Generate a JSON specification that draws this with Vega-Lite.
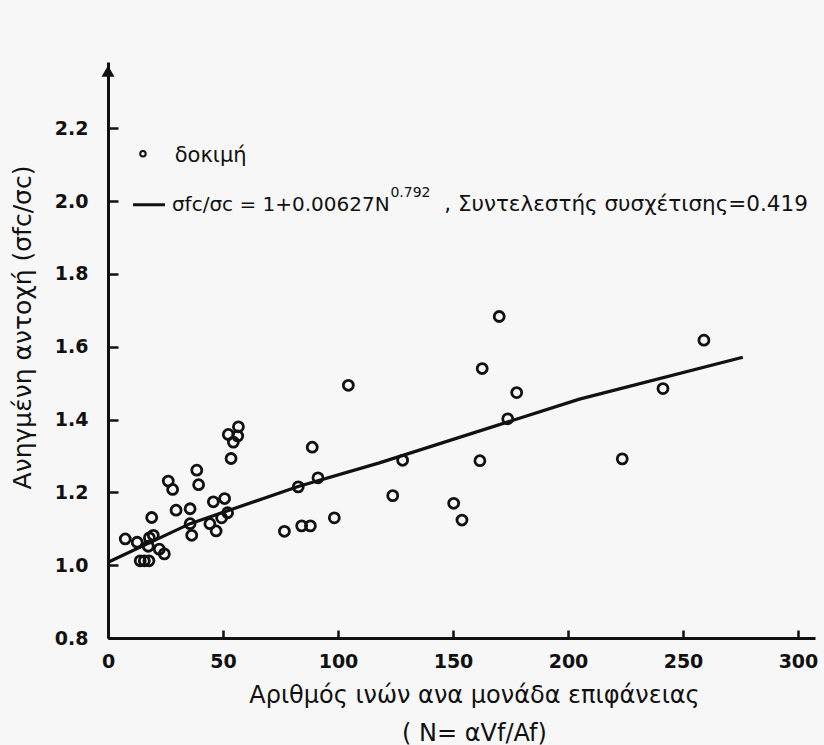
{
  "$schema": "https://vega.github.io/schema/vega-lite/v6.json",
  "width": 707,
  "height": 576,
  "autosize": {"type": "none"},
  "padding": {"left": 108, "top": 62, "right": 9, "bottom": 107},
  "background": "#f7f7f7",
  "config": {
    "view": {"stroke": null},
    "axis": {
      "grid": false,
      "domainColor": "#111",
      "domainWidth": 3,
      "tickColor": "#111",
      "tickWidth": 2.5,
      "labelFont": "DejaVu Sans",
      "labelFontSize": 19,
      "labelFontWeight": "bold",
      "labelColor": "#111",
      "titleFont": "DejaVu Sans",
      "titleFontSize": 24,
      "titleFontWeight": "normal",
      "titleColor": "#111"
    }
  },
  "datasets": {
    "tests": [
      {"N": 104.5, "ratio": 1.494}, {"N": 52.3, "ratio": 1.359}, {"N": 56.7, "ratio": 1.380},
      {"N": 56.4, "ratio": 1.355}, {"N": 54.5, "ratio": 1.338}, {"N": 53.5, "ratio": 1.293},
      {"N": 88.8, "ratio": 1.324}, {"N": 26.2, "ratio": 1.231}, {"N": 28.1, "ratio": 1.208},
      {"N": 38.6, "ratio": 1.261}, {"N": 39.4, "ratio": 1.221}, {"N": 82.7, "ratio": 1.215},
      {"N": 91.3, "ratio": 1.240}, {"N": 123.8, "ratio": 1.191}, {"N": 29.6, "ratio": 1.151},
      {"N": 35.7, "ratio": 1.155}, {"N": 45.8, "ratio": 1.174}, {"N": 50.7, "ratio": 1.183},
      {"N": 49.4, "ratio": 1.130}, {"N": 19.0, "ratio": 1.131}, {"N": 35.7, "ratio": 1.114},
      {"N": 44.3, "ratio": 1.114}, {"N": 47.0, "ratio": 1.094}, {"N": 36.4, "ratio": 1.082},
      {"N": 76.7, "ratio": 1.093}, {"N": 84.2, "ratio": 1.108}, {"N": 88.0, "ratio": 1.108},
      {"N": 98.4, "ratio": 1.130}, {"N": 7.5, "ratio": 1.072}, {"N": 12.7, "ratio": 1.063},
      {"N": 18.0, "ratio": 1.075}, {"N": 19.7, "ratio": 1.082}, {"N": 17.5, "ratio": 1.052},
      {"N": 22.3, "ratio": 1.044}, {"N": 24.5, "ratio": 1.031}, {"N": 14.0, "ratio": 1.012},
      {"N": 15.8, "ratio": 1.012}, {"N": 17.8, "ratio": 1.012}, {"N": 170.1, "ratio": 1.683},
      {"N": 259.1, "ratio": 1.618}, {"N": 162.7, "ratio": 1.540}, {"N": 177.7, "ratio": 1.474},
      {"N": 241.3, "ratio": 1.485}, {"N": 173.8, "ratio": 1.402}, {"N": 128.1, "ratio": 1.288},
      {"N": 161.7, "ratio": 1.287}, {"N": 223.6, "ratio": 1.292}, {"N": 150.3, "ratio": 1.170},
      {"N": 153.9, "ratio": 1.124}, {"N": 52.0, "ratio": 1.144}
    ],
    "fit": [
      {"N": 0, "ratio": 1.008}, {"N": 35.7, "ratio": 1.114}, {"N": 82.7, "ratio": 1.216},
      {"N": 118, "ratio": 1.281}, {"N": 205, "ratio": 1.456}, {"N": 276, "ratio": 1.571}
    ]
  },
  "layer": [
    {
      "data": {"name": "fit"},
      "mark": {"type": "line", "color": "#111", "strokeWidth": 3.2},
      "encoding": {
        "x": {
          "field": "N", "type": "quantitative",
          "scale": {"domain": [0, 307.4], "nice": false, "zero": false},
          "axis": {
            "orient": "top",
            "offset": -576,
            "values": [0, 50, 100, 150, 200, 250, 300],
            "tickSize": 8,
            "labelBaseline": "top",
            "labelPadding": -22,
            "labelFlush": false,
            "title": ["Αριθμός ινών ανα μονάδα επιφάνειας", "( N= αVf/Af)"],
            "titleX": 366,
            "titleY": 45,
            "titleBaseline": "top",
            "titleLineHeight": 38
          }
        },
        "y": {
          "field": "ratio", "type": "quantitative",
          "scale": {"domain": [0.8, 2.382], "nice": false, "zero": false},
          "axis": {
            "orient": "right",
            "offset": -707,
            "values": [0.8, 1.0, 1.2, 1.4, 1.6, 1.8, 2.0, 2.2],
            "format": ".1f",
            "tickSize": 10,
            "labelAlign": "right",
            "labelPadding": -30,
            "labelFlush": false,
            "title": "Ανηγμένη αντοχή (σfc/σc)",
            "titleFontSize": 25,
            "titleAngle": 270,
            "titleX": -86,
            "titleY": 265,
            "titleBaseline": "middle"
          }
        }
      }
    },
    {
      "data": {"name": "tests"},
      "mark": {"type": "point", "shape": "circle", "filled": false, "color": "#111", "strokeWidth": 2.8, "size": 100, "opacity": 1},
      "encoding": {
        "x": {"field": "N", "type": "quantitative"},
        "y": {"field": "ratio", "type": "quantitative"}
      }
    },
    {
      "data": {"values": [{}]},
      "mark": {"type": "point", "shape": "triangle-up", "filled": true, "color": "#111", "size": 170, "opacity": 1, "clip": false},
      "encoding": {
        "x": {"datum": 0, "type": "quantitative"},
        "y": {"datum": 2.357, "type": "quantitative"}
      }
    },
    {
      "data": {"values": [{}]},
      "mark": {"type": "point", "shape": "circle", "filled": false, "color": "#111", "strokeWidth": 2, "size": 30, "opacity": 1},
      "encoding": {
        "x": {"datum": 15.2, "type": "quantitative"},
        "y": {"datum": 2.13, "type": "quantitative"}
      }
    },
    {
      "data": {"values": [{}]},
      "mark": {"type": "text", "align": "left", "baseline": "middle", "font": "DejaVu Sans", "fontSize": 21, "color": "#111"},
      "encoding": {
        "x": {"datum": 29, "type": "quantitative"},
        "y": {"datum": 2.125, "type": "quantitative"},
        "text": {"value": "δοκιμή"}
      }
    },
    {
      "data": {"values": [{}]},
      "mark": {"type": "rule", "color": "#111", "strokeWidth": 3},
      "encoding": {
        "x": {"datum": 10.9, "type": "quantitative"},
        "x2": {"datum": 24.8},
        "y": {"datum": 1.99, "type": "quantitative"}
      }
    },
    {
      "data": {"values": [{}]},
      "mark": {"type": "text", "align": "left", "baseline": "middle", "font": "DejaVu Sans", "fontSize": 20, "color": "#111"},
      "encoding": {
        "x": {"datum": 27.8, "type": "quantitative"},
        "y": {"datum": 1.99, "type": "quantitative"},
        "text": {"value": "σfc/σc = 1+0.00627N"}
      }
    },
    {
      "data": {"values": [{}]},
      "mark": {"type": "text", "align": "left", "baseline": "middle", "font": "DejaVu Sans", "fontSize": 14, "color": "#111"},
      "encoding": {
        "x": {"datum": 122.8, "type": "quantitative"},
        "y": {"datum": 2.023, "type": "quantitative"},
        "text": {"value": "0.792"}
      }
    },
    {
      "data": {"values": [{}]},
      "mark": {"type": "text", "align": "right", "baseline": "middle", "font": "DejaVu Sans", "fontSize": 21.5, "color": "#111"},
      "encoding": {
        "x": {"datum": 304.3, "type": "quantitative"},
        "y": {"datum": 1.99, "type": "quantitative"},
        "text": {"value": ", Συντελεστής συσχέτισης=0.419"}
      }
    }
  ]
}
